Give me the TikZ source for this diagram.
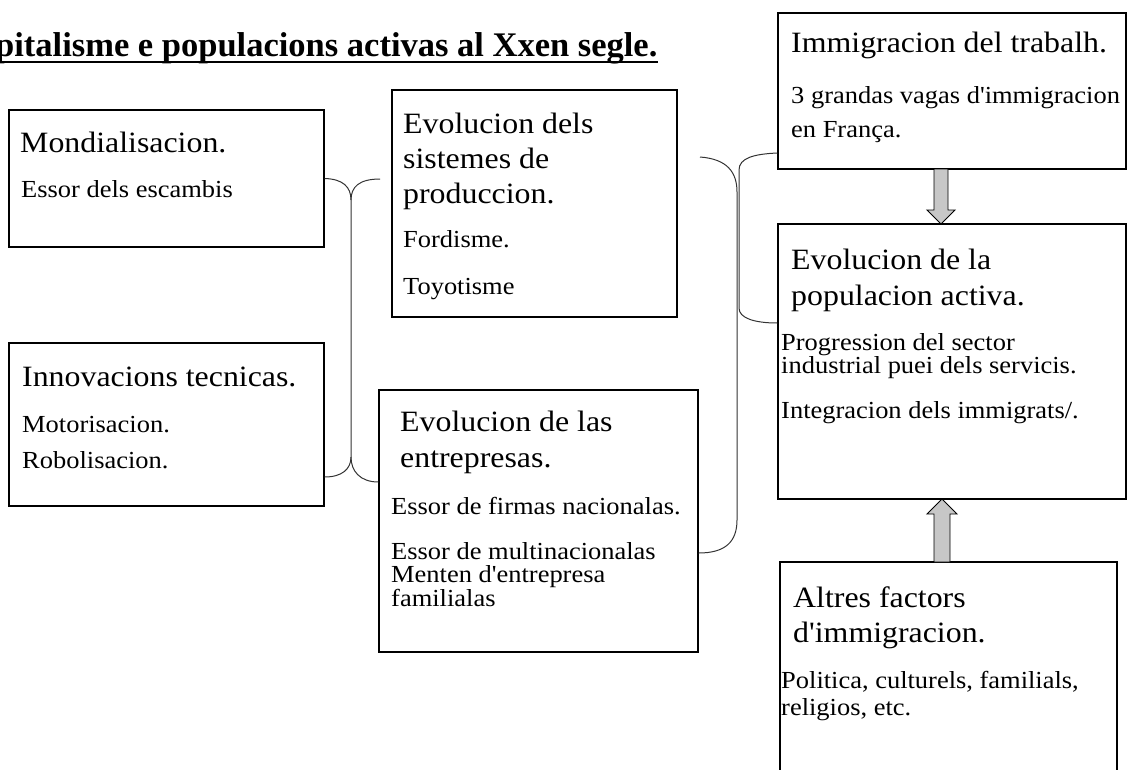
\documentclass[tikz,border=0pt]{standalone}
\usepackage{fontspec}
\setmainfont{Liberation Serif}
\newfontfamily\boxfont{Liberation Serif}[FakeStretch=1.08]
\usepackage{tikz}
\newcommand{\bigtext}{\boxfont\fontsize{29.5}{34}\selectfont}
\newcommand{\smalltext}{\boxfont\fontsize{24.5}{28}\selectfont}
\newcommand{\titletext}{\bfseries\fontsize{34.5}{40}\selectfont}

\begin{document}
\begin{tikzpicture}[x=1pt,y=-1pt,
  box/.style={draw, line width=1.2pt, inner sep=0pt},
  txt/.style={anchor=base west, inner sep=0pt},
  brace/.style={line width=1pt, black!80},
  blockarrow/.style={draw, line width=0.9pt, fill=black!22}]

\useasboundingbox (0,0) rectangle (1131,769);

\node (t) at (-5,56) [txt, font=\titletext] {pitalisme e populacions activas al Xxen segle.};
\draw[line width=1.7pt] ([yshift=-6pt]t.base west) -- ([yshift=-6pt]t.base east);

% boxes
\node (1) at (166.5,178.5) [box, minimum width=315pt, minimum height=137pt] {};
\node (2) at (166.5,424.5) [box, minimum width=315pt, minimum height=163pt] {};
\node (3) at (534.5,203.5) [box, minimum width=285pt, minimum height=227pt] {};
\node (4) at (538.5,521) [box, minimum width=319pt, minimum height=262pt] {};
\node (5) at (952,91) [box, minimum width=348pt, minimum height=156pt] {};
\node (6) at (952,361.5) [box, minimum width=348pt, minimum height=275pt] {};
\node (7) at (948.5,681) [box, minimum width=337pt, minimum height=238pt] {};

\node (1a) at (20,152) [txt, font=\bigtext] {Mondialisacion.};
\node (1b) at (21,197) [txt, font=\smalltext] {Essor dels escambis};

\node (2a) at (22,386) [txt, font=\bigtext] {Innovacions tecnicas.};
\node (2b) at (22,432) [txt, font=\smalltext] {Motorisacion.};
\node (2c) at (22,468) [txt, font=\smalltext] {Robolisacion.};

\node (3a) at (403,133) [txt, font=\bigtext] {Evolucion dels};
\node (3b) at (403,168) [txt, font=\bigtext] {sistemes de};
\node (3c) at (403,203) [txt, font=\bigtext] {produccion.};
\node (3d) at (403,247) [txt, font=\smalltext] {Fordisme.};
\node (3e) at (403,294) [txt, font=\smalltext] {Toyotisme};

\node (4a) at (400,431) [txt, font=\bigtext] {Evolucion de las};
\node (4b) at (400,467) [txt, font=\bigtext] {entrepresas.};
\node (4c) at (391,514) [txt, font=\smalltext] {Essor de firmas nacionalas.};
\node (4d) at (391,559) [txt, font=\smalltext] {Essor de multinacionalas};
\node (4e) at (391,582) [txt, font=\smalltext] {Menten d'entrepresa};
\node (4f) at (391,606) [txt, font=\smalltext] {familialas};

\node (5a) at (791,52) [txt, font=\bigtext] {Immigracion del trabalh.};
\node (5b) at (791,103) [txt, font=\smalltext] {3 grandas vagas d'immigracion};
\node (5c) at (791,137) [txt, font=\smalltext] {en França.};

\node (6a) at (791,269) [txt, font=\bigtext] {Evolucion de la};
\node (6b) at (791,305) [txt, font=\bigtext] {populacion activa.};
\node (6c) at (781,350) [txt, font=\smalltext] {Progression del sector};
\node (6d) at (781,373) [txt, font=\smalltext] {industrial puei dels servicis.};
\node (6e) at (781,418) [txt, font=\smalltext] {Integracion dels immigrats/.};

\node (7a) at (793,607) [txt, font=\bigtext] {Altres factors};
\node (7b) at (793,642) [txt, font=\bigtext] {d'immigracion.};
\node (7c) at (781,688) [txt, font=\smalltext] {Politica, culturels, familials,};
\node (7d) at (781,715) [txt, font=\smalltext] {religios, etc.};

% braces
\coordinate (a3) at (380,179);
\coordinate (ja) at (351,200);
\coordinate (jb) at (351,457);
\draw[brace] (1.east) .. controls (343,179) and (351,187) .. (ja) -- (jb)
  .. controls (351,469) and (342,477) .. (2.east |- 0,477);
\draw[brace] (a3) .. controls (359,179) and (351,187) .. (ja);
\draw[brace] (jb) .. controls (351,471) and (360,482) .. (4.west |- 0,482);

\coordinate (b3) at (700,157);
\draw[brace] (b3) .. controls (727,159) and (737,172) .. (737,192) -- (737,520)
  .. controls (737,542) and (725,553) .. (4.east |- 0,553);
\draw[brace] (5.west |- 0,153) .. controls (754,154) and (739,158) .. (739,170) -- (739,308)
  .. controls (739,318) and (754,323) .. (6.west |- 0,323);

% arrows
\draw[blockarrow] (934,169) -- (948,169) -- (948,210) -- (955,210) -- (941,224)
  -- (927,210) -- (934,210) -- cycle;
\draw[blockarrow] (942,499) -- (957,514) -- (950,514) -- (950,562) -- (934,562)
  -- (934,514) -- (927,514) -- cycle;

\end{tikzpicture}
\end{document}
